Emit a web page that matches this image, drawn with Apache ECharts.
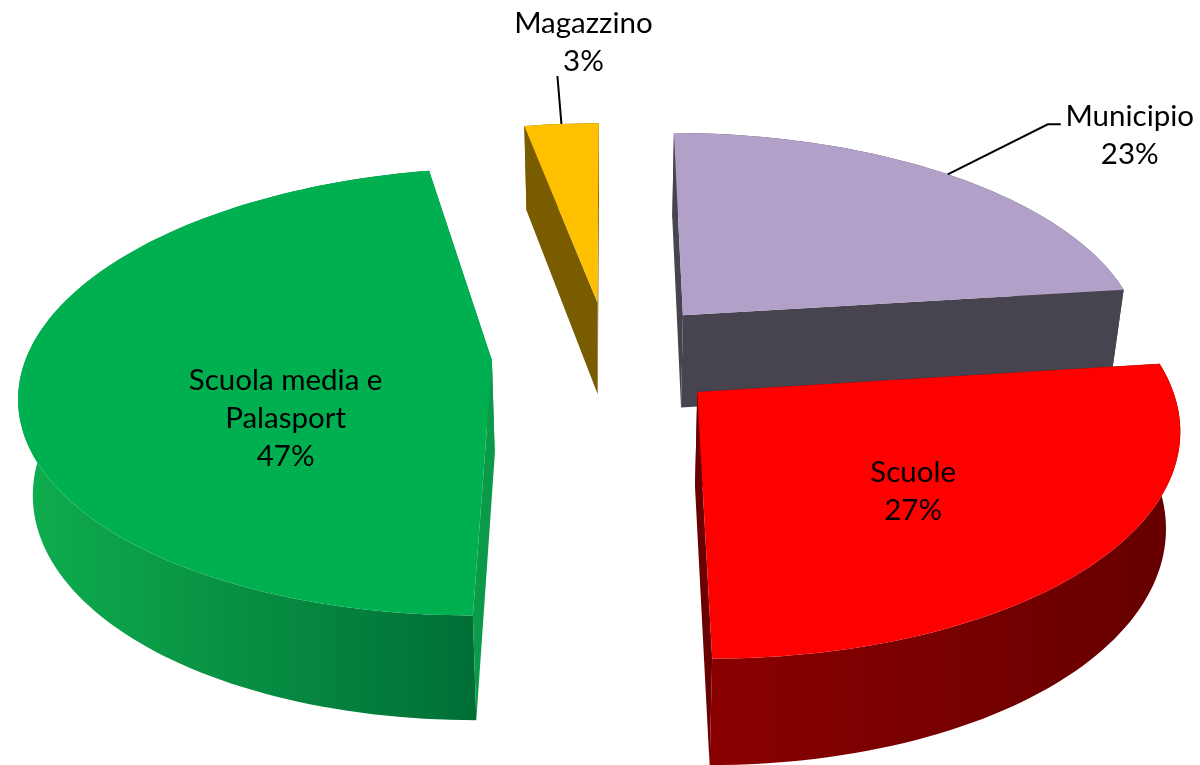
<!DOCTYPE html>
<html>
<head>
<meta charset="utf-8">
<style>html,body{margin:0;padding:0;background:#fff}#chart{width:1200px;height:765px}</style>
<script src="https://cdn.jsdelivr.net/npm/echarts@6/dist/echarts.min.js"></script>
</head>
<body>
<div id="chart"></div>
<script>
// Share of the total per building, clockwise from the top of the pie.
const names = ['Municipio', 'Scuole', 'Scuola media e\nPalasport', 'Magazzino'];
const values = [23, 27, 47, 3];

// Back-to-front painting sequence of the slices (indices into the lists above).
const paintOrder = [3, 2, 0, 1];

const palette = [
  { top: '#b1a0c7', side: ['#4b4652', '#47434f'], face: '#47434f' },
  { top: '#ff0000', side: ['#8a0000', '#650000'], face: '#6a0000' },
  { top: '#00b050', side: ['#0fae4e', '#006f36'], face: '#0b9a49' },
  { top: '#ffc000', side: ['#7f6000', '#7f6000'], face: '#7a5c00' }
];

// Ground-plane to screen projection of the tilted pie; the lower ring sits further
// from the viewer, so it is slightly narrower than the top surface.
const view = { cx: 608, cy: 355, rx: 465, ry: 218, depth: 0.14, height: 94, lowerScale: 0.975, explode: 0.25 };

const total = values.reduce((a, b) => a + b, 0);
const spans = [];
values.reduce((acc, v) => {
  const a0 = acc / total * Math.PI * 2;
  const a1 = (acc + v) / total * Math.PI * 2;
  spans.push([a0, a1, (a0 + a1) / 2]);
  return acc + v;
}, 0);

function project(gx, gy, lift) {
  const w = 1 - view.depth * gy;
  const sx = lift ? view.lowerScale : 1;
  const drop = lift ? view.height / Math.pow(w, 0.7) : 0;
  return [
    view.cx + sx * view.rx * gx / w,
    view.cy + view.ry * gy / w + drop
  ];
}

// Point at angle a and radius r of the slice i, after pulling the slice out of the pie.
function slicePoint(i, a, r, lift) {
  const m = spans[i][2];
  return project(
    view.explode * Math.sin(m) + r * Math.sin(a),
    -view.explode * Math.cos(m) - r * Math.cos(a),
    lift
  );
}

function arc(i, lift) {
  const [a0, a1] = spans[i];
  const n = Math.max(6, Math.ceil((a1 - a0) * 40));
  const pts = [];
  for (let k = 0; k <= n; k++) pts.push(slicePoint(i, a0 + (a1 - a0) * k / n, 1, lift));
  return pts;
}

function poly(points, fill) {
  return { type: 'polygon', shape: { points }, style: { fill, stroke: null } };
}

function renderSlice(params) {
  const i = paintOrder[params.dataIndex];
  const c = palette[i];
  const [a0, a1] = spans[i];
  const top = arc(i, false);
  const low = arc(i, true);
  const xs = top.map(p => p[0]);
  const rimFill = {
    type: 'linear', global: true,
    x: Math.min(...xs), y: 0, x2: Math.max(...xs), y2: 0,
    colorStops: [
      { offset: 0, color: c.side[0] },
      { offset: 1, color: c.side[1] }
    ]
  };
  const apex = slicePoint(i, 0, 0, false);
  const apexLow = slicePoint(i, 0, 0, true);
  return {
    type: 'group',
    children: [
      poly(top.concat(low.slice().reverse()), rimFill),
      poly([apex, slicePoint(i, a0, 1, false), slicePoint(i, a0, 1, true), apexLow], c.face),
      poly([apex, slicePoint(i, a1, 1, false), slicePoint(i, a1, 1, true), apexLow], c.face),
      poly([apex].concat(top), c.top)
    ]
  };
}

// Label placement: radius along the mid-angle plus a nudge, and optional leader elbow.
const labelSpots = [
  { r: 1, dx: 182, dy: -39, leader: [[100, -50], [113, -50]] },
  { r: 0.5, dx: 24, dy: 20 },
  { r: 0.44, dx: 0, dy: 49 },
  { r: 1, dx: 22, dy: -81, leader: [[-4, -48]] }
];

function renderLabel(params) {
  const i = params.dataIndex;
  const spot = labelSpots[i];
  const mid = spans[i][2];
  const at = slicePoint(i, mid, spot.r, false);
  const children = [];
  if (spot.leader) {
    const start = slicePoint(i, mid, 1, false);
    const points = [start].concat(spot.leader.map(d => [start[0] + d[0], start[1] + d[1]]));
    children.push({
      type: 'polyline', shape: { points },
      style: { stroke: '#000', lineWidth: 2, fill: null }
    });
  }
  children.push({
    type: 'text',
    style: {
      x: at[0] + spot.dx, y: at[1] + spot.dy,
      text: names[i] + '\n' + values[i] + '%',
      align: 'center', verticalAlign: 'middle',
      font: '29.5px Lato', lineHeight: 38, fill: '#000'
    }
  });
  return { type: 'group', children };
}

const chart = echarts.init(document.getElementById('chart'), null, { renderer: 'canvas' });
chart.setOption({
  animation: false,
  backgroundColor: '#fff',
  series: [
    {
      type: 'custom', coordinateSystem: 'none', silent: true,
      renderItem: renderSlice,
      data: paintOrder.map(i => values[i])
    },
    {
      type: 'custom', coordinateSystem: 'none', silent: true,
      renderItem: renderLabel,
      data: values
    }
  ]
});
</script>
</body>
</html>
